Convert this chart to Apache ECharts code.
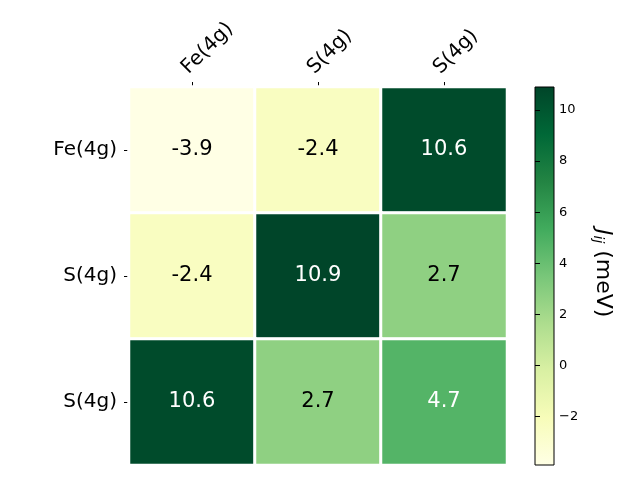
<!DOCTYPE html>
<html><head><meta charset="utf-8">
<script src="https://cdn.jsdelivr.net/npm/echarts@6/dist/echarts.min.js"></script>
<style>html,body{margin:0;padding:0;background:#fff}#c{width:640px;height:480px}</style>
</head><body><div id="c"></div>
<script>
const xLabels = ['Fe(4g)', 'S(4g)', 'S(4g)'];
const yLabels = ['Fe(4g)', 'S(4g)', 'S(4g)'];
const matrix = [
  [-3.9, -2.4, 10.6],
  [-2.4, 10.9, 2.7],
  [10.6, 2.7, 4.7]
];
const cbTicks = [-2, 0, 2, 4, 6, 8, 10];
const vMin = -3.9, vMax = 10.9;
const palette = ['#ffffe5','#f7fcb9','#d9f0a3','#addd8e','#78c679','#41ab5d','#238443','#006837','#004529'];

const data = [];
matrix.forEach((row, i) => row.forEach((v, j) => data.push([j, i, v])));

const chart = echarts.init(document.getElementById('c'), null, {renderer: 'canvas'});
const FONT = 'DejaVu Sans';
chart.setOption({
  animation: false,
  backgroundColor: '#fff',
  textStyle: {fontFamily: FONT},
  grid: [
    {left: 129, top: 87, width: 378, height: 378, containLabel: false},
    {left: 535, top: 87, width: 19, height: 378, show: true, borderColor: '#000', borderWidth: 1, backgroundColor: 'transparent', z: 10}
  ],
  xAxis: [
    {type: 'category', gridIndex: 0, position: 'top', data: xLabels,
     axisLine: {show: false},
     axisTick: {show: true, alignWithLabel: true, length: 5, lineStyle: {color: '#000'}},
     axisLabel: {rotate: -45, fontSize: 20, color: '#000', fontFamily: FONT, margin: 9, verticalAlign: 'bottom'},
     splitLine: {show: false}},
    {type: 'value', gridIndex: 1, show: false, min: 0, max: 1}
  ],
  yAxis: [
    {type: 'category', gridIndex: 0, inverse: true, data: yLabels,
     axisLine: {show: false},
     axisTick: {show: true, alignWithLabel: true, length: 5, lineStyle: {color: '#000'}},
     axisLabel: {fontSize: 20, color: '#000', fontFamily: FONT, margin: 12},
     splitLine: {show: false}},
    {type: 'value', gridIndex: 1, position: 'right', min: vMin, max: vMax, z: 10,
     axisLine: {show: false},
     axisTick: {show: true, length: 5, lineStyle: {color: '#000'}, customValues: cbTicks},
     axisLabel: {fontSize: 13, color: '#000', fontFamily: FONT, margin: 5, customValues: cbTicks,
       formatter: v => (v < 0 ? '\u2212' + Math.abs(v) : String(v))},
     splitLine: {show: false}}
  ],
  visualMap: {
    type: 'continuous', show: false, min: vMin, max: vMax, seriesIndex: 0, dimension: 2,
    inRange: {color: palette}
  },
  series: [{
    type: 'heatmap', xAxisIndex: 0, yAxisIndex: 0, data: data,
    itemStyle: {borderColor: '#fff', borderWidth: 3},
    label: {show: true, fontSize: 21, fontFamily: FONT,
      formatter: p => (p.value[2] > 4 ? '{w|' : '{b|') + p.value[2].toFixed(1) + '}',
      rich: {w: {color: '#fff', fontSize: 21, fontFamily: FONT}, b: {color: '#000', fontSize: 21, fontFamily: FONT}}},
    emphasis: {disabled: true}
  }],
  graphic: [
    {type: 'rect', left: 535, top: 87, z: -1, silent: true,
     shape: {width: 19, height: 378},
     style: {fill: new echarts.graphic.LinearGradient(0, 1, 0, 0,
       palette.map((c, i) => ({offset: i / (palette.length - 1), color: c})))}},
    {type: 'text', left: 591, top: 229, rotation: -Math.PI / 2,
     style: {
       text: '{i|J}{s|ij} (meV)',
       fill: '#000', font: '22px DejaVu Sans',
       rich: {i: {fontStyle: 'italic', fontSize: 22, fontFamily: FONT}, s: {fontStyle: 'italic', fontSize: 14, fontFamily: FONT, verticalAlign: 'bottom', padding: [9,0,0,0]}}
     }}
  ]
});
</script></body></html>
